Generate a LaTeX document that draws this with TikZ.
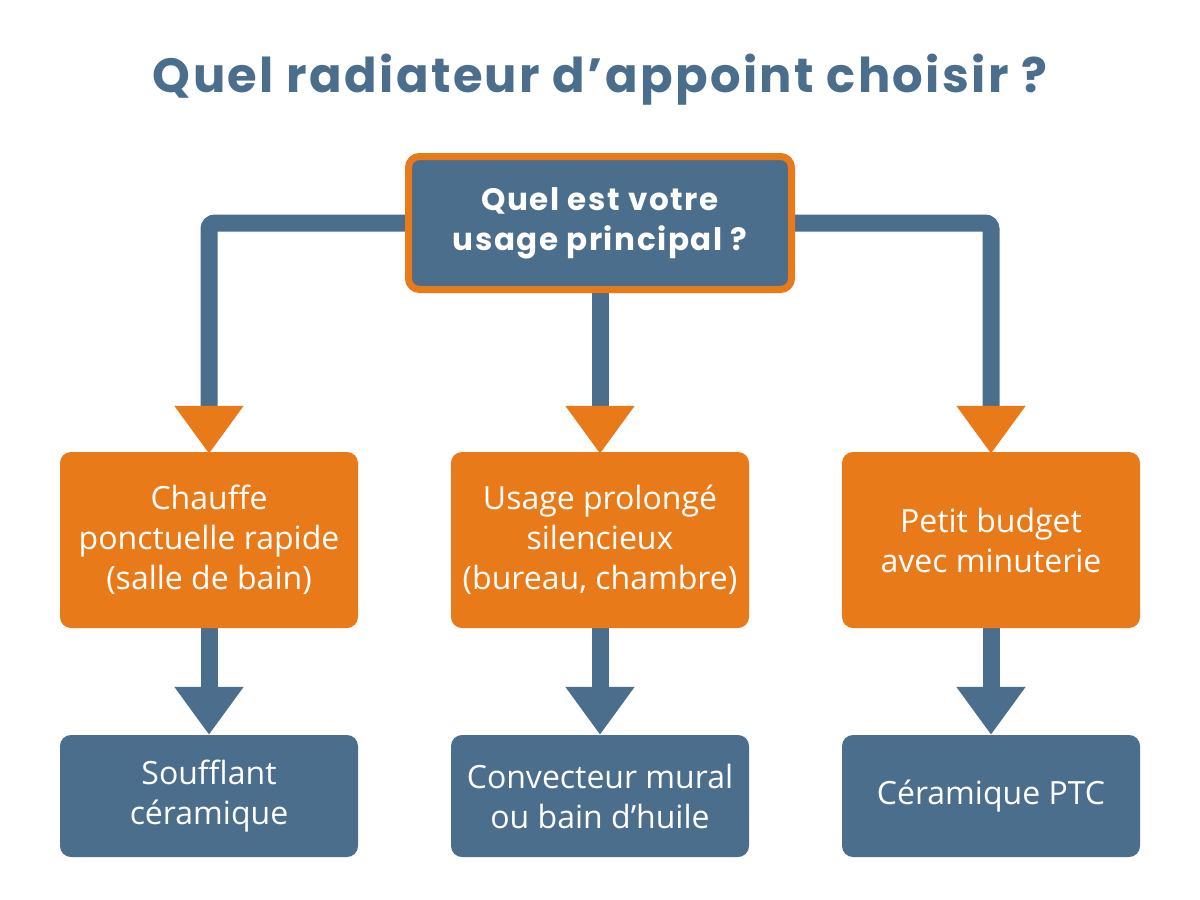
\documentclass[tikz,border=0pt]{standalone}
\usepackage{fontspec}
\setmainfont{Open Sans}
\newfontfamily\titlefont{Poppins}[LetterSpace=5]
\newfontfamily\qfont{Poppins}[LetterSpace=5]
\usetikzlibrary{arrows.meta,backgrounds}
\definecolor{cblue}{HTML}{4A6E8C}
\definecolor{corange}{HTML}{E97A19}
\begin{document}
\begin{tikzpicture}[x=1pt,y=-1pt,
  box/.style={rounded corners=11pt, minimum width=298pt, align=center, text=white, inner sep=0pt},
  obox/.style={box, fill=corange, minimum height=176pt, font=\fontsize{32}{40}\selectfont},
  bbox/.style={box, fill=cblue, minimum height=122pt, font=\fontsize{32}{40}\selectfont},
  topbox/.style={box, fill=cblue, draw=corange, line width=7pt, minimum width=383pt, minimum height=133pt, font=\qfont\bfseries\fontsize{31}{40}\selectfont},
  link/.style={draw=cblue, line width=17pt, rounded corners=6pt},
  otip/.style={-{Triangle[length=48pt,width=66pt,color=corange,fill=corange]}},
  btip/.style={-{Triangle[length=48pt,width=66pt,color=cblue,fill=cblue]}}
]
\useasboundingbox (0,0) rectangle (1200,900);
\node[font=\titlefont\bfseries\fontsize{48}{54}\selectfont, text=cblue] (title) at (600,80) {Quel radiateur d’appoint choisir ?};
\node[topbox] (top) at (600,223) {Quel est votre\\usage principal ?};
\node[obox] (m1) at (209,540) {Chauffe\\ponctuelle rapide\\(salle de bain)};
\node[obox] (m2) at (600,540) {Usage prolongé\\silencieux\\(bureau, chambre)};
\node[obox] (m3) at (991,540) {Petit budget\\avec minuterie};
\node[bbox] (b1) at (209,796) {Soufflant\\céramique};
\node[bbox] (b2) at (600,796) {Convecteur mural\\ou bain d’huile};
\node[bbox] (b3) at (991,796) {Céramique PTC};
\begin{scope}[on background layer]
\fill[white] (0,0) rectangle (1200,900);
\draw[link, otip] (top.west) -| ([yshift=-2pt]m1.north);
\draw[link, otip] (top.south) -- ([yshift=-2pt]m2.north);
\draw[link, otip] (top.east) -| ([yshift=-2pt]m3.north);
\draw[link, btip] (m1.south) -- (b1.north);
\draw[link, btip] (m2.south) -- (b2.north);
\draw[link, btip] (m3.south) -- (b3.north);
\end{scope}
\end{tikzpicture}
\end{document}
